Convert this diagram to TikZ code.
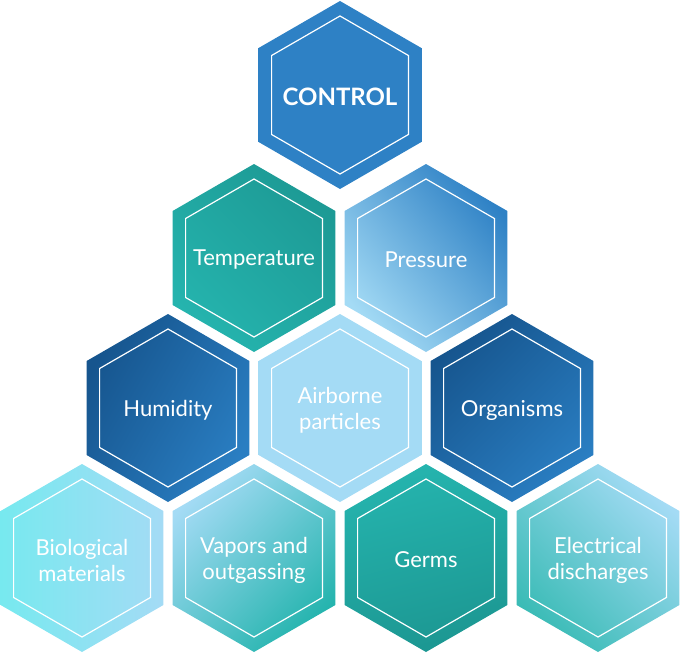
\documentclass[tikz,border=0pt]{standalone}
\usepackage{fontspec}
\setmainfont{Lato}
\usepackage{tikz}
\usepackage{xcolor}
\definecolor{hexblue}{HTML}{2E81C5}
\definecolor{hexdark}{HTML}{16558E}
\definecolor{hexmid}{HTML}{2A7EC2}
\definecolor{hexteal}{HTML}{25B4AE}
\definecolor{hexdeep}{HTML}{1C9792}
\definecolor{hexsky}{HTML}{A4DBF5}
\definecolor{hexcyan}{HTML}{77E9EF}
\tikzset{
	hextext/.style={text=white, font=\fontsize{22}{26}\selectfont, align=center, inner sep=0pt, yshift=-2pt},
	hexline/.style={draw=white, line width=1.2pt}
}
\newcommand{\hexa}[7]{
	%outer
	\shade[top color=#4, bottom color=#5, shading angle=#6] (#2,#3-94) -- (#2+81.4,#3-47) -- (#2+81.4,#3+47) -- (#2,#3+94) -- (#2-81.4,#3+47) -- (#2-81.4,#3-47) -- cycle;
	%
	%inner
	\draw[hexline] (#2,#3-79) -- (#2+68.4,#3-39.5) -- (#2+68.4,#3+39.5) -- (#2,#3+79) -- (#2-68.4,#3+39.5) -- (#2-68.4,#3-39.5) -- cycle;
	%
	\node[hextext] (#1) at (#2,#3) {#7};
}

\begin{document}
\begin{tikzpicture}[x=1pt, y=-1pt]
	\useasboundingbox (0,0) rectangle (681,653);
	% name posx posy top bottom angle text
	\hexa{control}{340}{95}{hexblue}{hexblue}{0}{\fontsize{24}{29}\selectfont\textbf{CONTROL}}
	\hexa{temp}{254}{258}{hexdeep!90!hexteal}{hexteal}{-45}{Temperature}
	\hexa{press}{426}{258}{hexblue}{hexsky}{-50}{Pressure}
	\hexa{humid}{168}{408}{hexdark}{hexmid}{60}{Humidity}
	\hexa{air}{340}{408}{hexsky}{hexsky}{0}{Airborne\\particles}
	\hexa{organ}{512}{408}{hexdark}{hexmid}{45}{Organisms}
	\hexa{bio}{82}{558}{hexcyan}{hexsky}{90}{Biological\\materials}
	\hexa{vapor}{254}{558}{hexsky}{hexteal}{45}{Vapors and\\outgassing}
	\hexa{germ}{426}{558}{hexteal}{hexdeep}{15}{Germs}
	\hexa{elec}{598}{558}{hexsky}{hexteal!90!white}{-45}{Electrical\\discharges}
\end{tikzpicture}
\end{document}
